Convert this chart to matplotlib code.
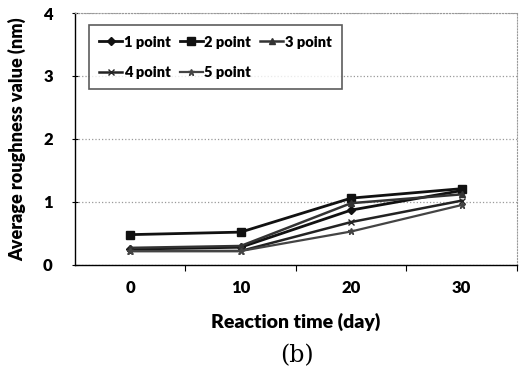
import numpy as np
import matplotlib.pyplot as plt

# Datos
days = [0, 10, 20, 30]
p1 = [0.25, 0.28, 0.87, 1.18]
p2 = [0.48, 0.52, 1.06, 1.21]
p3 = [0.27, 0.30, 0.98, 1.12]
p4 = [0.22, 0.22, 0.68, 1.02]
p5 = [0.22, 0.22, 0.53, 0.95]
labels = ['1 point', '2 point', '3 point', '4 point', '5 point']

plt.rcParams['font.family'] = ['Lato', 'DejaVu Sans']

fig = plt.figure(figsize=(5.21, 3.72), dpi=100)
ax = fig.add_axes([0.144, 0.288, 0.848, 0.677])

l1, = ax.plot(days, p1, '-', color='#111111', lw=2, marker='D', ms=4, label=labels[0])
l2, = ax.plot(days, p2, '-', color='#111111', lw=2, marker='s', ms=6, label=labels[1])
l3, = ax.plot(days, p3, '-', color='#333333', lw=1.8, marker='^', ms=5, label=labels[2])
l4, = ax.plot(days, p4, '-', color='#222222', lw=1.8, marker='x', ms=5, label=labels[3])
l5, = ax.plot(days, p5, '-', color='#444444', lw=1.6, marker='*', ms=5, label=labels[4])

ax.set_xlim(-5, 35)
ax.set_ylim(0, 4)
ax.set_yticks([0, 1, 2, 3, 4])
ax.set_yticklabels(['0', '1', '2', '3', '4'], fontweight='heavy', fontsize=12)
ax.set_xticks([5, 15, 25, 35])
ax.set_xticklabels([])
ax.set_xticks(days, minor=True)
ax.set_xticklabels(['0', '10', '20', '30'], minor=True, fontweight='heavy', fontsize=12)
ax.tick_params(axis='x', which='minor', length=0, pad=11)
ax.tick_params(axis='x', which='major', length=4, direction='out')
ax.tick_params(axis='y', length=4, direction='inout', pad=14)

ax.grid(axis='y', linestyle=':', color='#999999', lw=0.9)
for s in ['top', 'right']:
    ax.spines[s].set_linestyle(':')
    ax.spines[s].set_color('#999999')
ax.spines['left'].set_linewidth(1.0)
ax.spines['bottom'].set_linewidth(1.0)

ax.set_ylabel('Average roughness value (nm)', fontweight='heavy', fontsize=13, labelpad=12)
ax.set_xlabel('Reaction time (day)', fontweight='heavy', fontsize=14, labelpad=12)

# orden por filas: 1,2,3 / 4,5
handles = [l1, l4, l2, l5, l3]
leg = ax.legend(handles, [h.get_label() for h in handles], loc='upper left', ncol=3,
                bbox_to_anchor=(0.015, 0.98),
                prop={'weight': 'heavy', 'size': 10.5}, frameon=True, fancybox=False,
                handlelength=1.6, handletextpad=0.1, columnspacing=0.6,
                labelspacing=1.2, borderpad=0.7)
leg.get_frame().set_edgecolor('#333333')
leg.get_frame().set_linewidth(1.2)

fig.text(0.57, 0.025, '(b)', fontsize=17, family='DejaVu Serif', ha='center')

plt.savefig('out.png', dpi=100)
